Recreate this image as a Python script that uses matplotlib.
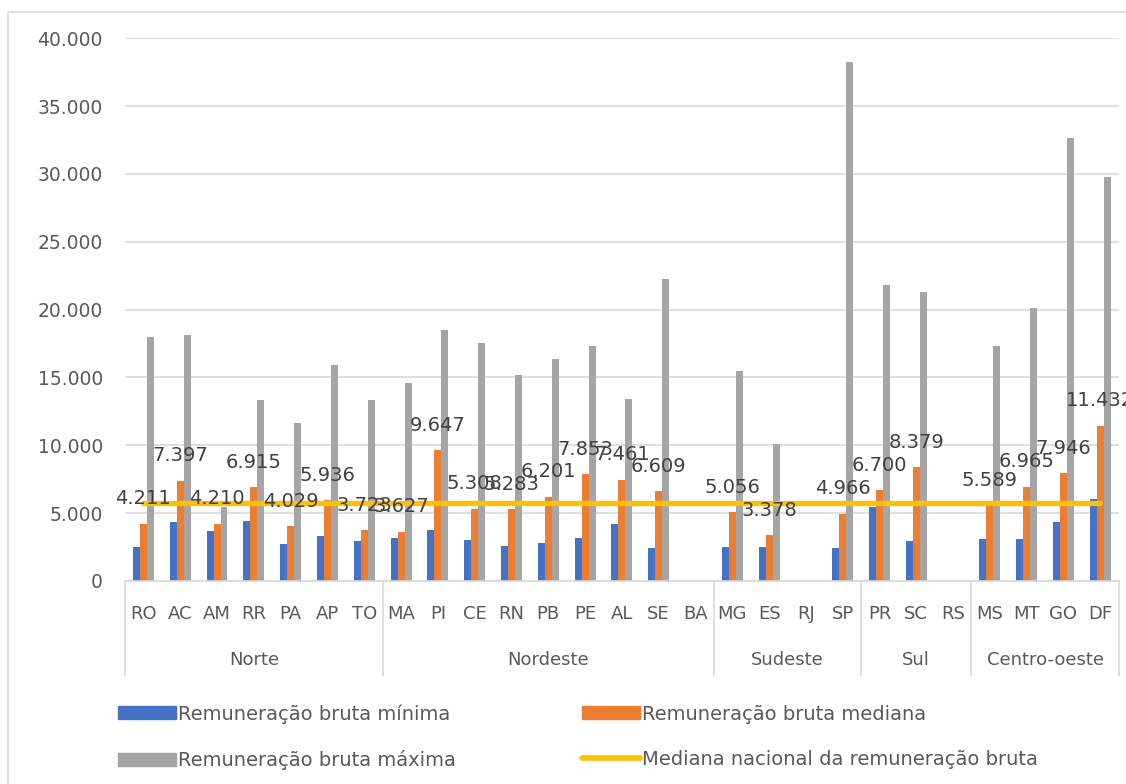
import matplotlib.pyplot as plt
import numpy as np
from matplotlib.patches import Rectangle, Patch
from matplotlib.lines import Line2D
from matplotlib.ticker import FuncFormatter

nan = np.nan

estados = ["RO", "AC", "AM", "RR", "PA", "AP", "TO",
           "MA", "PI", "CE", "RN", "PB", "PE", "AL", "SE", "BA",
           "MG", "ES", "RJ", "SP",
           "PR", "SC", "RS",
           "MS", "MT", "GO", "DF"]
regioes = ["Norte", "Nordeste", "Sudeste", "Sul", "Centro-oeste"]
n_por_regiao = [7, 9, 4, 3, 4]

minima = [2500, 4370, 3680, 4420, 2700, 3310, 2920,
          3190, 3760, 3020, 2580, 2780, 3170, 4200, 2450, nan,
          2530, 2500, nan, 2450,
          5450, 2970, nan,
          3090, 3090, 4340, 6040]
mediana = [4211, 7397, 4210, 6915, 4029, 5936, 3723,
           3627, 9647, 5308, 5283, 6201, 7853, 7461, 6609, nan,
           5056, 3378, nan, 4966,
           6700, 8379, nan,
           5589, 6965, 7946, 11432]
maxima = [17960, 18160, 5490, 13310, 11620, 15930, 13360,
          14630, 18500, 17550, 15150, 16370, 17300, 13380, 22280, nan,
          15490, 10120, nan, 38240,
          21810, 21320, nan,
          17350, 20150, 32670, 29760]
mediana_nacional = 5770

azul = "#4472C4"
laranja = "#ED7D31"
cinza = "#A5A5A5"
amarelo = "#FFC000"
texto = "#595959"
grade = "#D9D9D9"


def milhar(v, pos=None):
    return f"{v:,.0f}".replace(",", ".")


fig = plt.figure(figsize=(11.26, 7.84), dpi=100)
ax = fig.add_axes([125 / 1126, 1 - 581 / 784, 993.7 / 1126, 542.7 / 784])

x = np.arange(len(estados))
w = 0.19
ax.bar(x - w, minima, w, color=azul, zorder=2)
ax.bar(x, mediana, w, color=laranja, zorder=2)
ax.bar(x + w, maxima, w, color=cinza, zorder=2)
ax.plot(x, np.full(len(estados), mediana_nacional), color=amarelo, lw=3.8,
        solid_capstyle="round", zorder=3)

# rótulos só na mediana
for i, v in enumerate(mediana):
    if not np.isnan(v):
        ax.annotate(milhar(v), (x[i], v), xytext=(0, 18), textcoords="offset points",
                    ha="center", va="center", fontsize=14, color="#404040", zorder=4)

ax.set_xlim(-0.5, len(estados) - 0.5)
ax.set_ylim(0, 40000)
ax.set_yticks(np.arange(0, 40001, 5000))
ax.yaxis.set_major_formatter(FuncFormatter(milhar))
ax.tick_params(axis="y", length=0, pad=16, labelsize=13.5, labelcolor=texto)
ax.set_xticks([])
ax.grid(axis="y", color=grade, lw=1.2)
ax.set_axisbelow(True)
for s in ["left", "right", "top"]:
    ax.spines[s].set_visible(False)
ax.spines["bottom"].set_color(grade)
ax.spines["bottom"].set_linewidth(1.2)

# eixo de categorias em dois níveis
trans = ax.get_xaxis_transform()
for i, e in enumerate(estados):
    ax.text(x[i], -0.06, e, transform=trans, ha="center", va="center",
            fontsize=13, color=texto)
inicio = -0.5
limites = [inicio]
for reg, n in zip(regioes, n_por_regiao):
    fim = inicio + n
    ax.text((inicio + fim) / 2, -0.145, reg, transform=trans, ha="center", va="center",
            fontsize=13, color=texto)
    limites.append(fim)
    inicio = fim
for b in limites:
    ax.plot([b, b], [0, -0.173], transform=trans, color=grade, lw=1.2, clip_on=False)

# borda do gráfico
fig.add_artist(Rectangle((8 / 1126, -0.05), 1.1, 1 - 12 / 784 + 0.05,
                         transform=fig.transFigure, fill=False, edgecolor=grade, lw=1.2))

handles = [Patch(color=azul), Patch(color=cinza), Patch(color=laranja),
           Line2D([0], [0], color=amarelo, lw=4, solid_capstyle="round")]
labels = ["Remuneração bruta mínima", "Remuneração bruta máxima",
          "Remuneração bruta mediana", "Mediana nacional da remuneração bruta"]
leg = fig.legend(handles, labels, ncol=2, loc="upper left",
                 bbox_to_anchor=(118 / 1126, 1 - 704 / 784), frameon=False,
                 fontsize=14, handlelength=2.98, handleheight=0.67, handletextpad=0.1,
                 columnspacing=6.5, labelspacing=1.36, borderpad=0, borderaxespad=0)
for t in leg.get_texts():
    t.set_color(texto)

fig.savefig("out.png", dpi=100)
